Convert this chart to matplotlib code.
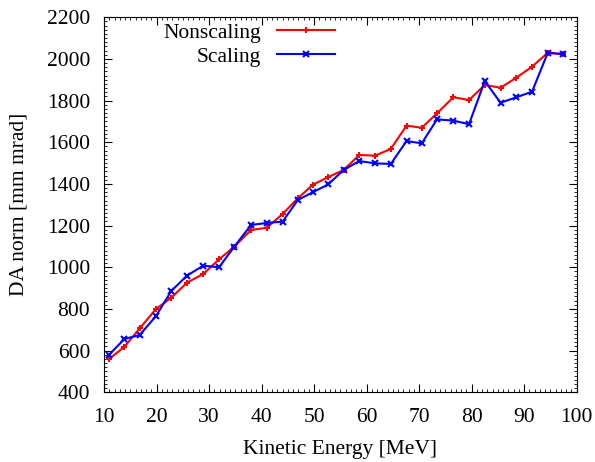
import matplotlib
matplotlib.use("Agg")
import matplotlib.pyplot as plt
from matplotlib.ticker import MultipleLocator

energy = [10.9, 13.9, 16.8, 19.9, 22.8, 25.8, 28.9, 31.9, 34.8, 38.0,
          41.0, 44.0, 46.9, 49.8, 52.7, 55.6, 58.6, 61.6, 64.6, 67.6,
          70.5, 73.4, 76.5, 79.5, 82.5, 85.5, 88.5, 91.5, 94.5, 97.4]
nonscaling = [558, 619, 707, 800, 854, 926, 968, 1038, 1099, 1179,
              1190, 1256, 1331, 1397, 1433, 1467, 1539, 1536, 1568, 1680,
              1670, 1739, 1816, 1803, 1875, 1862, 1910, 1963, 2030, 2023]
scaling = [579, 656, 675, 766, 886, 960, 1008, 1000, 1099, 1203,
           1213, 1219, 1323, 1361, 1398, 1467, 1510, 1499, 1496, 1606,
           1595, 1710, 1704, 1687, 1894, 1790, 1816, 1843, 2030, 2023]

plt.rcParams['font.family'] = ['Liberation Serif', 'DejaVu Serif']
plt.rcParams['font.size'] = 15.5

fig = plt.figure(figsize=(5.95, 4.62), dpi=100)
ax = fig.add_axes([104/595, 1-392.3/462, (576.7-104)/595, (392.3-17.3)/462])

ax.plot(energy, nonscaling, color='#ff0000', lw=1.5, marker='+', ms=5, mew=1.5, label='Nonscaling')
ax.plot(energy, scaling, color='#0000ff', lw=1.5, marker='x', ms=4.5, mew=1.5, label='Scaling')

ax.set_xlim(10, 100)
ax.set_ylim(400, 2200)
ax.xaxis.set_major_locator(MultipleLocator(10))
ax.yaxis.set_major_locator(MultipleLocator(200))
ax.xaxis.set_minor_locator(MultipleLocator(1))
ax.yaxis.set_minor_locator(MultipleLocator(20))
ax.tick_params(which='both', direction='in', top=True, right=True)
ax.tick_params(which='major', length=6, width=0.8)
ax.tick_params(axis='x', which='major', pad=11)
ax.tick_params(axis='y', which='major', pad=10)
ax.tick_params(which='minor', length=2.5, width=0.6)
for s in ax.spines.values():
    s.set_linewidth(0.8)

ax.set_xlabel("Kinetic Energy [MeV]", labelpad=10)
ax.set_ylabel("DA norm [mm mrad]", labelpad=13)

fig.legend(loc='center right', bbox_to_anchor=(335/595, 1-44.8/462), frameon=False,
           markerfirst=False, handlelength=2.7, handletextpad=0.75, labelspacing=0.2,
           borderpad=0, borderaxespad=0)

fig.savefig("out.png", dpi=100)
